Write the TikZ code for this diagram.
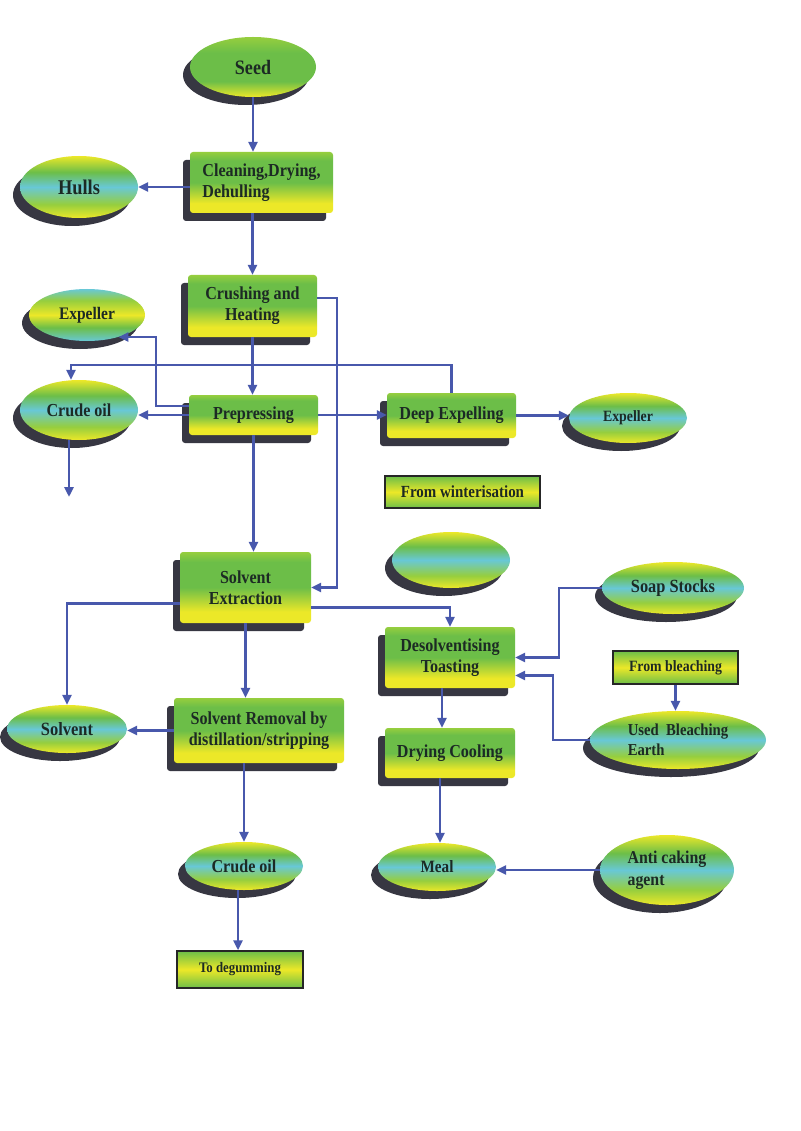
\documentclass[tikz,border=0pt]{standalone}
\usepackage{fontspec}
\setmainfont{Liberation Serif}[FakeStretch=0.88]
\usetikzlibrary{shapes.geometric,arrows.meta,shadows}
\definecolor{yel}{RGB}{236,232,40}
\definecolor{grn}{RGB}{108,190,72}
\definecolor{lgrn}{RGB}{150,206,62}
\definecolor{cyn}{RGB}{104,200,214}
\definecolor{shd}{RGB}{55,55,66}
\definecolor{lineblue}{RGB}{72,88,172}
\definecolor{txt}{RGB}{28,42,36}
\pgfdeclareverticalshading{boxshade}{100bp}{color(0bp)=(yel); color(25bp)=(yel); color(33bp)=(yel); color(50bp)=(grn); color(68bp)=(grn); color(75bp)=(lgrn); color(100bp)=(lgrn)}
\pgfdeclareverticalshading{ellshade}{100bp}{color(0bp)=(yel); color(25bp)=(yel); color(36bp)=(lgrn); color(50bp)=(cyn); color(62bp)=(grn); color(75bp)=(yel); color(100bp)=(yel)}
\pgfdeclareverticalshading{seedshade}{100bp}{color(0bp)=(yel); color(25bp)=(yel); color(38bp)=(grn); color(62bp)=(grn); color(75bp)=(lgrn); color(100bp)=(lgrn)}
\pgfdeclareverticalshading{expshade}{100bp}{color(0bp)=(cyn); color(25bp)=(cyn); color(38bp)=(grn); color(50bp)=(yel); color(64bp)=(lgrn); color(75bp)=(cyn); color(100bp)=(cyn)}
\pgfdeclareverticalshading{tagshade}{100bp}{color(0bp)=(grn); color(25bp)=(grn); color(50bp)=(yel); color(75bp)=(grn); color(100bp)=(grn)}
\newcommand{\fsz}[2]{\fontsize{#1}{#2}\selectfont}
\tikzset{
  sh/.style={drop shadow={shadow xshift=-7pt,shadow yshift=-8pt,opacity=1,fill=shd}},
  sz/.style n args={2}{minimum width=#1pt,minimum height=#2pt},
  box/.style={rectangle,rounded corners=3pt,shade,shading=boxshade,sh,inner sep=0pt,align=center,text=txt,font=\bfseries\fsz{18.3}{21}},
  ell/.style={ellipse,shade,shading=ellshade,sh,inner sep=0pt,align=center,text=txt,font=\bfseries\fsz{18.3}{21}},
  tag/.style={rectangle,draw=black!85,line width=1.5pt,shade,shading=tagshade,inner sep=0pt,align=center,text=txt,font=\bfseries\fsz{15.7}{19}},
  arr/.style={draw=lineblue,line width=2.5pt,-{Triangle[length=10pt,width=9pt]}},
}
\begin{document}
\begin{tikzpicture}[x=1pt,y=-1pt]
\path[use as bounding box,fill=white] (0,0) rectangle (800,1131);
% nodes
\node[ell,shading=seedshade,sz={126}{60},font=\bfseries\fsz{20.5}{22}] (seed) at (253,67) {Seed};
\node[box,sz={143}{61},align=left] (clean) at (261.5,182.5) {Cleaning,Drying,\\Dehulling};
\node[ell,sz={118}{62},font=\bfseries\fsz{20.9}{22}] (hulls) at (79,187) {Hulls};
\node[box,sz={129}{62}] (crush) at (252.5,306) {Crushing and\\Heating};
\node[ell,shading=expshade,sz={116}{52},font=\bfseries\fsz{17.6}{20}] (exp1) at (87,315) {Expeller};
\node[ell,sz={118}{60}] (crude1) at (79,410) {Crude oil};
\node[box,sz={129}{40}] (prep) at (253.5,415) {Prepressing};
\node[box,sz={129}{45}] (deep) at (451.5,415.5) {Deep Expelling};
\node[ell,sz={118}{50},font=\bfseries\fsz{15.7}{19}] (exp2) at (628,418) {Expeller};
\node[tag,sz={155}{32},font=\bfseries\fsz{17}{20}] (wint) at (462.5,492) {From winterisation};
\node[ell,sz={118}{56}] (hid) at (451,560) {};
\node[box,sz={131}{71}] (solv) at (245.5,587.5) {Solvent\\Extraction};
\node[ell,sz={142}{52},font=\bfseries\fsz{18.6}{21}] (soap) at (673,588) {Soap Stocks};
\node[box,sz={130}{61}] (des) at (450,657.5) {Desolventising\\Toasting};
\node[tag,sz={125}{33}] (bleach) at (675.5,667.5) {From bleaching};
\node[ell,sz={176}{58},align=left,font=\bfseries\fsz{16.7}{20}] (ube) at (678,740) {Used\ \ Bleaching\\Earth};
\node[ell,sz={120}{48},font=\bfseries\fsz{18.7}{21}] (solvent) at (67,729) {Solvent};
\node[box,sz={170}{65}] (rem) at (259,730.5) {Solvent Removal by\\distillation/stripping};
\node[box,sz={130}{50}] (dry) at (450,753) {Drying Cooling};
\node[ell,sz={118}{48}] (crude2) at (244,866) {Crude oil};
\node[ell,sz={118}{48},font=\bfseries\fsz{17.3}{20}] (meal) at (437,867) {Meal};
\node[ell,sz={134}{70},align=left,font=\bfseries\fsz{18}{22}] (anti) at (667,870) {Anti caking\\agent};
\node[tag,sz={126}{37},font=\bfseries\fsz{14.6}{17}] (deg) at (240,969.5) {To degumming};
\coordinate (c1end) at (69,497);
% connectors
\draw[arr] (seed.south) -- (seed.south |- clean.north);
\draw[arr] (hulls.east -| clean.west) -- (hulls.east);
\draw[arr] (crush.north |- clean.south) -- (crush.north);
\draw[arr] (crush.south) -- (crush.south |- prep.north);
\draw[arr] (prep.west) -- (prep.west -| crude1.east);
\draw[arr] ([yshift=9pt]prep.west) -- ++(-33,0) |- (exp1.-35);
\draw[arr] (deep.north) -- ++(0,-28) -| ([xshift=-8pt]crude1.north);
\draw[arr] (prep.east) -- (prep.east -| deep.west);
\draw[arr] (deep.east) -- (deep.east -| exp2.west);
\draw[arr] ([xshift=-10pt]crude1.south) -- (c1end);
\draw[arr] (prep.south) -- (prep.south |- solv.north);
\draw[arr] ([yshift=8pt]crush.east) -- ++(20,0) coordinate (k) -- (k |- solv.east) -- (solv.east);
\draw[arr] ([yshift=-16pt]solv.west) -| (solvent.north);
\draw[arr] (solv.south) -- (solv.south |- rem.north);
\draw[arr] ([yshift=-20pt]solv.east) -| (des.north);
\draw[arr] (rem.west) -- (rem.west -| solvent.east);
\draw[arr] (soap.west) -- ++(-43,0) |- (des.east);
\draw[arr] (bleach.south) -- (bleach.south |- ube.north);
\draw[arr] (ube.west) -- ++(-37,0) |- ([yshift=-18pt]des.east);
\draw[arr] ([xshift=-8pt]des.south) -- ([xshift=-8pt]des.south |- dry.north);
\draw[arr] ([xshift=-10pt]dry.south) -- ([xshift=-10pt]dry.south |- meal.north);
\draw[arr] (anti.west) -- (anti.west -| meal.east);
\draw[arr] (rem.south -| crude2.north) -- (crude2.north);
\draw[arr] ([xshift=-6pt]crude2.south) -- ([xshift=-6pt]crude2.south |- deg.north);
\end{tikzpicture}
\end{document}
